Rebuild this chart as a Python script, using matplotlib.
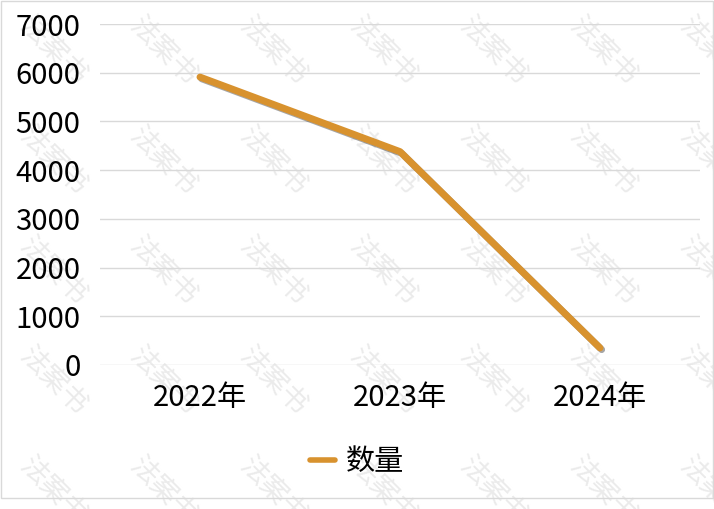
import matplotlib
matplotlib.use("Agg")
import matplotlib.pyplot as plt
import matplotlib.patheffects as pe
from matplotlib.patches import Rectangle

plt.rcParams['font.family'] = ['Noto Sans CJK SC', 'DejaVu Sans']

years = ["2022年", "2023年", "2024年"]
counts = [5910, 4380, 350]
series_name = "数量"
yticks = [0, 1000, 2000, 3000, 4000, 5000, 6000, 7000]

W, H = 714, 509
fig = plt.figure(figsize=(W / 100, H / 100), dpi=100)
ax = fig.add_axes([100 / W, 1 - 365 / H, 600 / W, (365 - 24) / H])
ax.patch.set_alpha(0)

# watermark tiles
for cx in range(53, W + 60, 110):
    for cy in range(51, H + 60, 110):
        fig.text(cx / W, 1 - cy / H, "法案书", rotation=-45, fontsize=20,
                 color="#ebebeb", ha="center", va="center", zorder=-5)

x = list(range(len(years)))
ax.plot(x, counts, color="#d8922e", linewidth=5, solid_capstyle="round",
        solid_joinstyle="round", label=series_name, zorder=3,
        path_effects=[pe.SimpleLineShadow(offset=(1.2, -1.2), alpha=0.35),
                      pe.Normal()])

ax.set_xlim(-0.5, 2.5)
ax.set_ylim(0, 7000)
ax.set_xticks(x)
ax.set_xticklabels(years)
ax.set_yticks(yticks)
ax.tick_params(axis="both", length=0, labelsize=21, colors="black")
ax.tick_params(axis="y", pad=14)
ax.tick_params(axis="x", pad=13)
ax.grid(axis="y", color="#d9d9d9", linewidth=1)
ax.set_axisbelow(True)
for s in ax.spines.values():
    s.set_visible(False)

leg = fig.legend(loc="center", bbox_to_anchor=(357 / W, 1 - 462 / H),
                 frameon=False, fontsize=21, handlelength=0.85,
                 handletextpad=0.35)
for ln in leg.get_lines():
    ln.set_path_effects([])
    ln.set_linewidth(4)

fig.add_artist(Rectangle((0.5 / W, 1 - 498 / H), 712 / W, 497.5 / H,
                         transform=fig.transFigure, fill=False,
                         edgecolor="#d9d9d9", linewidth=1))

fig.savefig("out.png", dpi=100)
